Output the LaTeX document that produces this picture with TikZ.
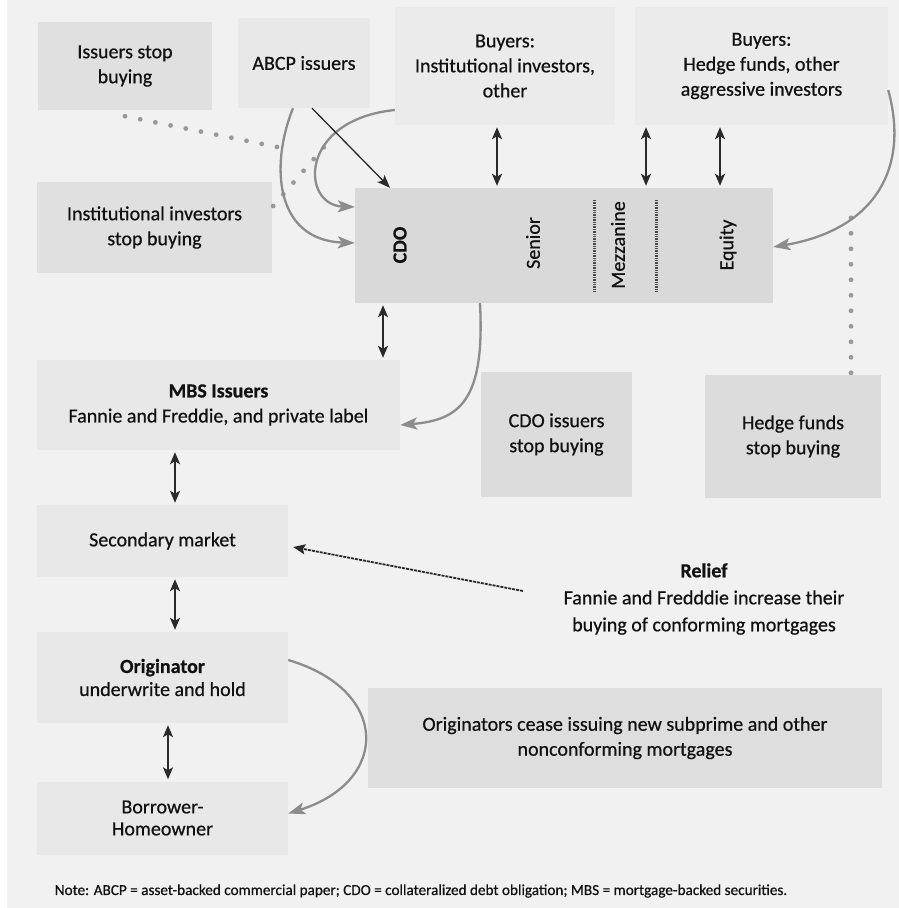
\documentclass[tikz,border=0pt]{standalone}
\usepackage{fontspec}
\setmainfont{Carlito}[FakeBold=0.6]
\usetikzlibrary{arrows.meta}
\definecolor{bgc}{HTML}{F1F1F1}
\definecolor{cA}{HTML}{E0E0E0}
\definecolor{cB}{HTML}{E8E8E8}
\definecolor{cC}{HTML}{EBEBEB}
\definecolor{cD}{HTML}{D9D9D9}
\definecolor{cE}{HTML}{DCDCDC}
\definecolor{cF}{HTML}{DEDEDE}
\definecolor{ink}{HTML}{111111}
\definecolor{flow}{HTML}{8C8C8C}
\definecolor{dotc}{HTML}{999999}
\definecolor{dark}{HTML}{2A2A2A}
\begin{document}
\begin{tikzpicture}[x=1pt,y=-1pt,
  every node/.style={text=ink},
  panel/.style={fill=#1, draw=none, inner sep=0pt, align=center,
    font=\fontsize{20}{25}\selectfont},
  lbl/.style={inner sep=0pt, align=center, font=\fontsize{20}{25}\selectfont},
  dbl/.style={draw=dark, line width=2pt, {Stealth[length=12pt,width=10pt,inset=3pt]}-{Stealth[length=12pt,width=10pt,inset=3pt]}, shorten >=2pt, shorten <=2pt},
  grayflow/.style={draw=flow, line width=2.3pt, -{Stealth[length=17pt,width=12pt,inset=4pt]}},
  thinflow/.style={draw=dark, line width=1.3pt, -{Stealth[length=13pt,width=10pt,inset=3pt]}},
  dotline/.style={draw=dotc, line width=4.8pt, dash pattern=on 0pt off 15.5pt, line cap=round},
  tranche/.style={draw=dark!85, line width=3pt, dash pattern=on 1.4pt off 1pt},
  relarrow/.style={draw=dark, line width=1.8pt, dash pattern=on 3pt off 1pt, -{Stealth[length=12pt,width=10pt,inset=2pt]}}
]
\useasboundingbox (0,0) rectangle (899,908);
\fill[bgc] (0,0) rectangle (899,908);
\fill[white] (0,0) rectangle (7,908);

% boxes
\node[panel=cA, minimum width=174pt, minimum height=88pt] (issstop) at (125,66) {Issuers stop\\buying};
\node[panel=cB, minimum width=132pt, minimum height=90pt] (abcp) at (304,63) {ABCP issuers};
\node[panel=cC, minimum width=220pt, minimum height=118pt] (buyinst) at (505,66) {Buyers:\\Institutional investors,\\other};
\node[panel=cC, minimum width=253pt, minimum height=118pt] (buyhedge) at (761.5,66) {Buyers:\\Hedge funds, other\\aggressive investors};
\node[panel=cA, minimum width=235pt, minimum height=91pt] (inststop) at (154.5,227.5) {Institutional investors\\stop buying};
\node[panel=cD, minimum width=418pt, minimum height=115pt] (cdo) at (564,245.5) {};
\node[lbl, rotate=90] (cdolbl) at (400,245) {\bfseries CDO};
\node[lbl, rotate=90] (senior) at (533,243) {Senior};
\node[lbl, rotate=90] (mezz) at (618,245) {Mezzanine};
\node[lbl, rotate=90] (equity) at (728,245) {Equity};
\draw[tranche] (594,200) -- (594,292);
\draw[tranche] (656,200) -- (656,292);

\node[panel=cB, minimum width=363pt, minimum height=90pt] (mbs) at (218.5,405) {\textbf{MBS Issuers}\\Fannie and Freddie, and private label};
\node[panel=cE, minimum width=151pt, minimum height=125pt] (cdostop) at (556.5,434.5) {CDO issuers\\stop buying};
\node[panel=cE, minimum width=176pt, minimum height=123pt] (hedgestop) at (793,436.5) {Hedge funds\\stop buying};
\node[panel=cB, minimum width=251pt, minimum height=72pt] (secondary) at (162.5,541) {Secondary market};
\node[lbl, font=\fontsize{20}{27}\selectfont] (relief) at (704,599) {\textbf{Relief}\\Fannie and Fredddie increase their\\buying of conforming mortgages};
\node[panel=cB, minimum width=251pt, minimum height=91pt, font=\fontsize{20}{23}\selectfont] (originator) at (162.5,677.5) {\textbf{Originator}\\underwrite and hold};
\node[panel=cB, minimum width=251pt, minimum height=73pt, font=\fontsize{20}{22}\selectfont] (borrower) at (162.5,818) {Borrower-\\Homeowner};
\node[panel=cF, minimum width=514pt, minimum height=100pt] (cease) at (625,738) {Originators cease issuing new subprime and other\\nonconforming mortgages};
\node[inner sep=0pt, font=\fontsize{15.2}{17}\selectfont] (note) at (421,891) {Note: ABCP = asset-backed commercial paper; CDO = collateralized debt obligation; MBS = mortgage-backed securities.};

% coordinates for free ends
\coordinate (d1end) at (282,148);
\coordinate (d2end) at (325,146);
\coordinate (d3end) at (851,217);
\coordinate (reliefstart) at (523,591);

% dotted "stop buying" lines
\draw[dotline] ([yshift=-6pt]issstop.south) -- (d1end);
\draw[dotline] ([xshift=1pt,yshift=21.5pt]inststop.east) -- (d2end);
\draw[dotline] ([xshift=58pt,yshift=2pt]hedgestop.north) -- (d3end);

% gray flows
\draw[grayflow] ([xshift=-11pt]abcp.south) .. controls +(-23,57) and +(-80,-3) .. ([yshift=2.5pt]cdo.west);
\draw[grayflow] ([yshift=-44pt]buyinst.west) .. controls +(-97,10) and +(-54,-2) .. ([yshift=38.5pt]cdo.west);
\draw[grayflow] ([xshift=-84pt]cdo.south) .. controls +(5,97) and +(60,-5) .. ([yshift=-20pt]mbs.east);
\draw[grayflow] ([yshift=-24pt]buyhedge.east) .. controls +(22,80) and +(100,-17) .. ([yshift=-1.5pt]cdo.east);
\draw[grayflow] ([yshift=17.5pt]originator.east) .. controls +(102,30) and +(102,-32) .. ([yshift=4.5pt]borrower.east);

% thin black arrow
\draw[thinflow] ([xshift=8pt]abcp.south) -- ([xshift=-174pt]cdo.north);

% double arrows
\draw[dbl] ([xshift=-8pt]buyinst.south) -- ([xshift=-67pt]cdo.north);
\draw[dbl] ([xshift=-115.5pt]buyhedge.south) -- ([xshift=82pt]cdo.north);
\draw[dbl] ([xshift=-41.5pt]buyhedge.south) -- ([xshift=156pt]cdo.north);
\draw[dbl] ([xshift=-181pt]cdo.south) -- ([xshift=164.5pt]mbs.north);
\draw[dbl] ([xshift=-43.5pt]mbs.south) -- ([xshift=12.5pt]secondary.north);
\draw[dbl] ([xshift=12.5pt]secondary.south) -- ([xshift=12.5pt]originator.north);
\draw[dbl] ([xshift=5.5pt]originator.south) -- ([xshift=5.5pt]borrower.north);

% relief arrow
\draw[relarrow] (reliefstart) -- ([xshift=5pt,yshift=-6pt]secondary.east);
\end{tikzpicture}
\end{document}
